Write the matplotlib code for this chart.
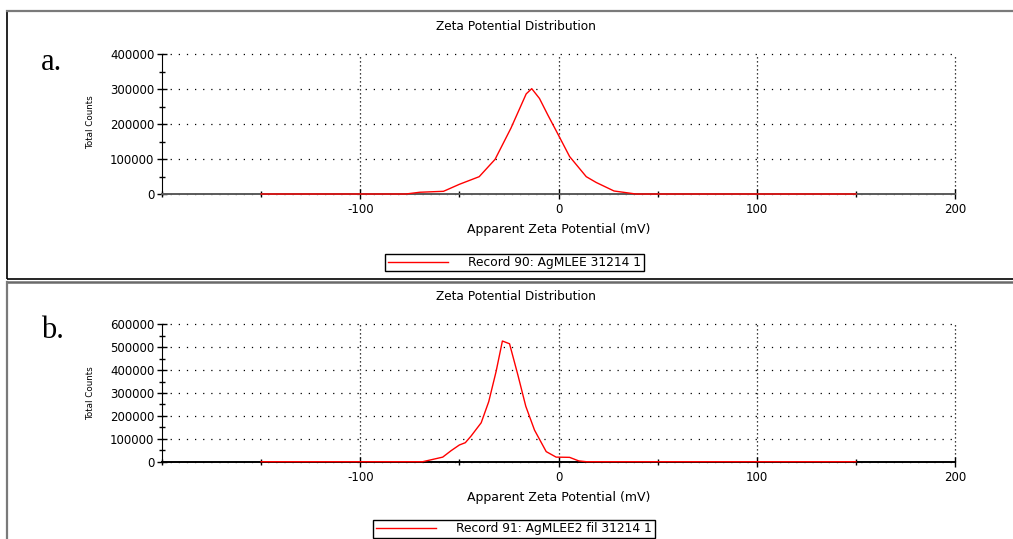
import matplotlib
matplotlib.use("Agg")
import matplotlib.pyplot as plt
from matplotlib.patches import Rectangle
from matplotlib.lines import Line2D
from matplotlib.ticker import MultipleLocator

# ---------------- data ----------------
x_a = [-150, -90, -77, -70, -58, -50, -40, -32, -24, -16.3, -13.5, -9.6, -5.4, 0,
       5.6, 14, 19, 28, 39, 150]
y_a = [0, 0, 0, 5000, 7700, 27700, 49500, 99000, 188000, 286000, 301000, 273000,
       226000, 168000, 107000, 49500, 33000, 8600, 0, 0]

x_b = [-150, -68.5, -58.4, -54.2, -50, -47, -44.1, -39, -35.2, -31.5, -28.3, -24.7,
       -20.5, -16.5, -12.1, -6.2, -1.2, 5.6, 10.2, 14, 150]
y_b = [0, 0, 20000, 48000, 73000, 83000, 112000, 170000, 262000, 393000, 527000,
       515000, 379000, 242000, 138000, 44000, 20000, 19000, 3500, 0, 0]

labels = ["Record 90: AgMLEE 31214 1", "Record 91: AgMLEE2 fil 31214 1"]
panel_tags = ["a.", "b."]
title = "Zeta Potential Distribution"
xlabel = "Apparent Zeta Potential (mV)"
ylabel = "Total Counts"
xticks = [-100, 0, 100, 200]
ymax = [400000, 600000]

W, H = 1013, 539
plt.rcParams['font.family'] = ['DejaVu Sans']
plt.rcParams['axes.unicode_minus'] = False
fig = plt.figure(figsize=(W / 100, H / 100), dpi=100)

def fx(px):
    return px / W

def fy(py):
    return 1 - py / H

# panel frames
fig.add_artist(Rectangle((fx(7), fy(279)), fx(1030 - 7), fy(11) - fy(279),
                         transform=fig.transFigure, fill=False, edgecolor='#000000',
                         linewidth=1.2))
fig.add_artist(Line2D([fx(7), fx(1013)], [fy(11), fy(11)], transform=fig.transFigure,
                      color='#7a7a7a', linewidth=1.6))
fig.add_artist(Line2D([fx(7), fx(1013)], [fy(281.5), fy(281.5)], transform=fig.transFigure,
                      color='#6a6a6a', linewidth=1.8))
fig.add_artist(Line2D([fx(7), fx(7)], [fy(281.5), fy(545)], transform=fig.transFigure,
                      color='#7a7a7a', linewidth=1.6))

axes_boxes = [(162, 955, 54, 194), (162, 955, 324.3, 461.7)]
title_y = [26, 297]
tag_y = [63, 331]
ylab_y = [122, 393]
leg_c = [(514.5, 262.5), (514, 528.7)]
spine_col = ['#5a5a5a', '#000000']
xs = [x_a, x_b]
ys = [y_a, y_b]

for i in range(2):
    l, r, t, b = axes_boxes[i]
    ax = fig.add_axes([fx(l), fy(b), fx(r - l), fy(t) - fy(b)])
    line, = ax.plot(xs[i], ys[i], color='#ff0000', linewidth=1.0, zorder=3,
                    clip_on=False)
    ax.set_xlim(-200, 200)
    ax.set_ylim(0, ymax[i])
    ax.set_xticks(xticks)
    ax.xaxis.set_minor_locator(MultipleLocator(50))
    ax.yaxis.set_major_locator(MultipleLocator(100000))
    ax.yaxis.set_minor_locator(MultipleLocator(50000))
    ax.tick_params(axis='both', which='both', direction='inout', colors='black',
                   labelsize=8.5, width=1)
    ax.tick_params(axis='both', which='major', length=7)
    ax.tick_params(axis='both', which='minor', length=5)
    ax.tick_params(axis='x', pad=3)
    ax.tick_params(axis='y', pad=2)
    ax.yaxis.set_major_formatter(matplotlib.ticker.FuncFormatter(lambda v, p: f"{int(v)}"))
    for s in ['top', 'right']:
        ax.spines[s].set_visible(False)
    ax.spines['left'].set_color('black')
    ax.spines['bottom'].set_color(spine_col[i])
    ax.spines['bottom'].set_linewidth(1.4)
    ax.yaxis.grid(True, which='major', linestyle=(0, (1, 5.5)), color='black',
                  linewidth=0.9)
    ax.xaxis.grid(True, which='major', linestyle=(0, (1, 2.2)), color='black',
                  linewidth=0.9)
    for gl in ax.get_xgridlines() + ax.get_ygridlines():
        gl.set_clip_on(False)
    ax.set_axisbelow(True)
    ax.patch.set_alpha(0)
    ax.set_xlabel(xlabel, fontsize=9, labelpad=5)
    fig.text(fx(516), fy(title_y[i]), title, fontsize=8.7, ha='center', va='center')
    fig.text(fx(41), fy(tag_y[i]), panel_tags[i], fontsize=22, ha='left', va='center',
             family='Liberation Serif')
    fig.text(fx(91), fy(ylab_y[i]), ylabel, fontsize=6.3, rotation=90, ha='center',
             va='center')
    cx, cy = leg_c[i]
    fig.legend([line], [labels[i]], loc='center', bbox_to_anchor=(fx(cx), fy(cy)),
               bbox_transform=fig.transFigure, fontsize=8.8, frameon=True, fancybox=False,
               edgecolor='black', framealpha=1, borderpad=0.2, handlelength=4.9,
               handletextpad=1.7, borderaxespad=0)

fig.savefig("out.png", dpi=100)
